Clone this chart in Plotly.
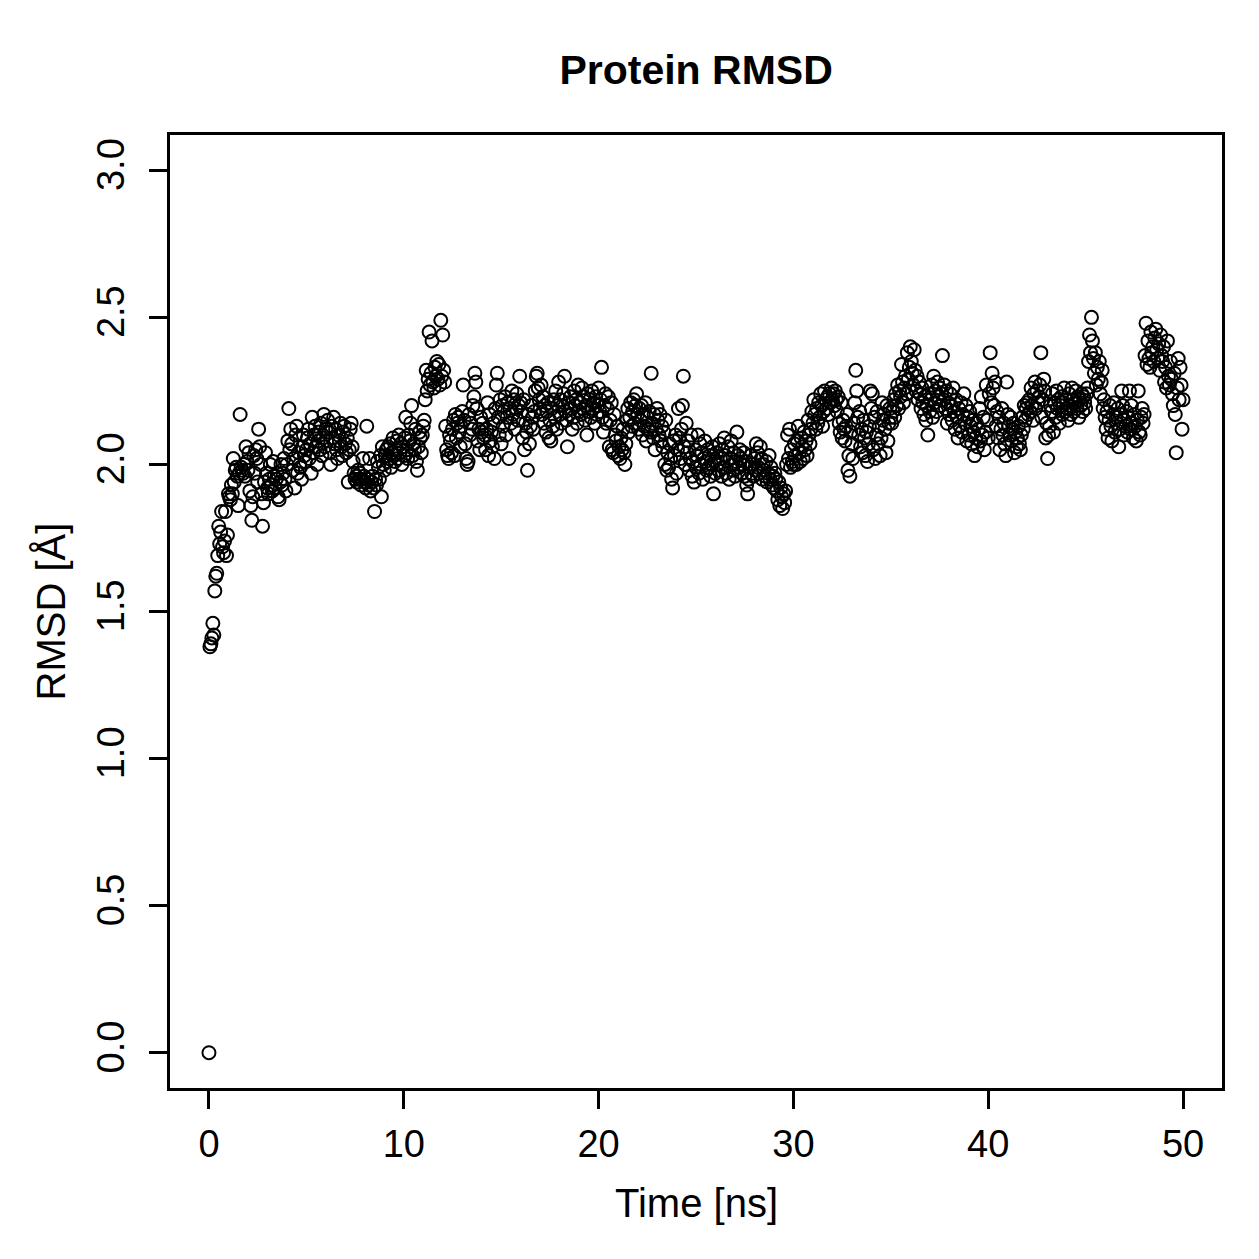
import plotly.graph_objects as go

# RMSD values (Å), one frame every 0.05 ns
rmsd_start = [0.00]
rmsd_00_10 = [
    1.38, 1.39, 1.41, 1.46, 1.42, 1.57, 1.62, 1.63, 1.69, 1.79, 1.73, 1.77, 1.84, 1.72, 1.70, 1.74, 1.84, 1.69, 1.76, 1.90,
    1.89, 1.88, 1.93, 1.90, 2.02, 1.94, 1.98, 1.99, 1.96, 1.86, 1.97, 2.17, 1.99, 1.98, 1.97, 2.00, 1.96, 2.06, 2.01, 1.98,
    2.04, 1.91, 1.86, 1.81, 1.89, 2.03, 1.97, 2.05, 2.02, 1.94, 2.12, 2.06, 2.00, 1.90, 1.79, 1.87, 1.94, 2.04, 1.97, 1.92,
    1.90, 1.95, 2.00, 1.93, 1.91, 2.01, 1.96, 1.92, 1.95, 1.97, 1.89, 1.88, 1.94, 2.00, 1.93, 1.97, 2.02, 1.95, 1.91, 2.00,
    2.08, 2.19, 2.05, 2.12, 2.07, 1.98, 2.02, 1.92, 2.10, 2.13, 1.97, 2.04, 2.00, 1.99, 1.95, 2.06, 2.10, 2.03, 2.01, 2.05,
    2.09, 2.12, 2.02, 2.07, 1.97, 2.16, 2.04, 2.10, 2.13, 2.06, 2.00, 2.08, 2.11, 2.05, 2.14, 2.03, 2.09, 2.17, 2.06, 2.12,
    2.08, 2.15, 2.11, 2.04, 2.00, 2.13, 2.09, 2.16, 2.07, 2.12, 2.05, 2.02, 2.10, 2.08, 2.14, 2.06, 2.03, 2.11, 2.13, 2.07,
    2.04, 2.09, 1.94, 2.05, 2.12, 2.14, 2.06, 2.01, 1.97, 1.95, 1.96, 1.94, 1.98, 1.95, 1.97, 1.93, 1.95, 2.02, 1.96, 1.94,
    1.92, 2.13, 1.95, 1.93, 2.02, 1.91, 1.94, 1.96, 1.92, 1.84, 1.95, 1.93, 2.01, 1.99, 1.95, 2.03, 1.89, 2.06, 2.00, 1.98,
    2.03, 2.05, 2.01, 2.06, 2.02, 2.07, 1.99, 2.04, 2.09, 2.03, 2.01, 2.05, 2.08, 2.02, 2.10, 2.04, 2.07, 2.00, 2.06, 2.03,
]
rmsd_10_20 = [
    2.09, 2.16, 2.05, 2.02, 2.10, 2.08, 2.14, 2.20, 2.03, 2.07, 2.05, 2.12, 2.01, 1.98, 2.06, 2.11, 2.09, 2.04, 2.10, 2.13,
    2.15, 2.22, 2.32, 2.25, 2.29, 2.45, 2.27, 2.31, 2.42, 2.28, 2.26, 2.33, 2.30, 2.35, 2.29, 2.34, 2.27, 2.49, 2.30, 2.44,
    2.32, 2.28, 2.13, 2.05, 2.03, 2.02, 2.10, 2.08, 2.04, 2.12, 2.15, 2.03, 2.17, 2.09, 2.14, 2.16, 2.11, 2.06, 2.13, 2.18,
    2.27, 2.15, 2.07, 2.02, 2.00, 2.01, 2.17, 2.10, 2.14, 2.12, 2.20, 2.23, 2.31, 2.28, 2.19, 2.08, 2.12, 2.05, 2.16, 2.11,
    2.14, 2.09, 2.10, 2.05, 2.12, 2.21, 2.03, 2.17, 2.08, 2.11, 2.06, 2.14, 2.02, 2.19, 2.27, 2.31, 2.16, 2.10, 2.22, 2.07,
    2.20, 2.13, 2.18, 2.23, 2.10, 2.16, 2.21, 2.02, 2.19, 2.14, 2.25, 2.17, 2.22, 2.12, 2.19, 2.24, 2.15, 2.20, 2.30, 2.21,
    2.18, 2.09, 2.22, 2.05, 2.14, 2.11, 1.98, 2.17, 2.07, 2.13, 2.20, 2.16, 2.12, 2.18, 2.25, 2.30, 2.31, 2.26, 2.22, 2.19,
    2.27, 2.17, 2.23, 2.14, 2.20, 2.11, 2.18, 2.21, 2.09, 2.15, 2.08, 2.19, 2.13, 2.22, 2.16, 2.25, 2.12, 2.20, 2.28, 2.17,
    2.22, 2.14, 2.20, 2.24, 2.30, 2.18, 2.15, 2.06, 2.21, 2.17, 2.23, 2.19, 2.12, 2.16, 2.25, 2.20, 2.22, 2.14, 2.27, 2.18,
    2.21, 2.17, 2.26, 2.19, 2.23, 2.15, 2.20, 2.10, 2.24, 2.18, 2.22, 2.16, 2.25, 2.19, 2.21, 2.14, 2.23, 2.17, 2.20, 2.26,
]
rmsd_20_30 = [
    2.18, 2.22, 2.33, 2.16, 2.11, 2.20, 2.24, 2.14, 2.19, 2.23, 2.06, 2.15, 2.21, 2.05, 2.04, 2.17, 2.10, 2.08, 2.13, 2.03,
    2.06, 2.02, 2.09, 2.05, 2.12, 2.04, 2.00, 2.07, 2.15, 2.19, 2.11, 2.16, 2.21, 2.13, 2.18, 2.22, 2.14, 2.20, 2.24, 2.17,
    2.12, 2.19, 2.15, 2.20, 2.10, 2.17, 2.13, 2.21, 2.08, 2.16, 2.12, 2.18, 2.11, 2.31, 2.14, 2.09, 2.17, 2.05, 2.12, 2.19,
    2.15, 2.10, 2.17, 2.08, 2.13, 2.06, 2.11, 2.00, 2.15, 1.98, 2.04, 1.99, 2.07, 2.02, 1.95, 1.92, 2.08, 2.03, 2.10, 1.97,
    2.05, 2.19, 2.09, 2.02, 2.12, 2.20, 2.30, 2.06, 2.00, 2.14, 2.04, 2.08, 1.98, 2.02, 2.10, 1.96, 2.01, 1.94, 2.05, 1.99,
    2.03, 2.10, 1.97, 2.07, 2.00, 2.04, 1.95, 2.02, 2.08, 2.01, 1.98, 2.05, 1.99, 2.03, 1.96, 2.00, 2.06, 1.90, 2.01, 1.97,
    2.04, 2.00, 1.98, 2.07, 2.02, 1.96, 2.05, 1.99, 2.09, 2.03, 1.97, 2.01, 2.06, 1.95, 2.02, 2.08, 2.00, 1.98, 2.04, 1.96,
    2.01, 2.11, 2.03, 1.99, 2.05, 2.02, 1.97, 2.00, 2.04, 1.96, 2.01, 1.93, 1.90, 1.95, 1.99, 2.03, 1.97, 2.00, 1.96, 2.02,
    1.98, 2.07, 2.04, 1.99, 1.97, 2.06, 2.02, 1.95, 2.00, 1.98, 1.96, 2.01, 1.94, 1.97, 2.03, 1.95, 1.99, 1.93, 1.96, 1.92,
    1.97, 1.95, 1.91, 1.88, 1.94, 1.86, 1.92, 1.89, 1.85, 1.90, 1.87, 1.91, 2.00, 2.10, 2.02, 2.12, 1.99, 2.05, 2.01, 2.00,
]
rmsd_30_40 = [
    2.07, 2.03, 2.00, 2.08, 2.13, 2.04, 2.01, 2.09, 2.06, 2.02, 2.11, 2.05, 2.08, 2.03, 2.15, 2.10, 2.07, 2.12, 2.18, 2.14,
    2.22, 2.17, 2.12, 2.19, 2.14, 2.21, 2.16, 2.24, 2.20, 2.13, 2.18, 2.25, 2.22, 2.19, 2.23, 2.17, 2.24, 2.21, 2.26, 2.22,
    2.24, 2.20, 2.25, 2.22, 2.18, 2.23, 2.14, 2.11, 2.21, 2.09, 2.15, 2.12, 2.08, 2.13, 2.17, 1.98, 2.03, 1.96, 2.11, 2.07,
    2.02, 2.14, 2.21, 2.32, 2.25, 2.16, 2.10, 2.18, 2.06, 2.12, 2.04, 2.15, 2.09, 2.03, 2.11, 2.01, 2.07, 2.13, 2.25, 2.19,
    2.24, 2.05, 2.16, 2.02, 2.10, 2.18, 2.07, 2.13, 2.03, 2.09, 2.21, 2.15, 2.17, 2.12, 2.04, 2.20, 2.08, 2.14, 2.19, 2.16,
    2.14, 2.18, 2.22, 2.16, 2.24, 2.20, 2.27, 2.19, 2.25, 2.23, 2.34, 2.28, 2.21, 2.26, 2.30, 2.24, 2.38, 2.29, 2.33, 2.40,
    2.35, 2.31, 2.27, 2.39, 2.32, 2.25, 2.30, 2.22, 2.28, 2.24, 2.19, 2.26, 2.21, 2.17, 2.23, 2.15, 2.20, 2.10, 2.24, 2.18,
    2.22, 2.27, 2.16, 2.30, 2.21, 2.25, 2.18, 2.28, 2.23, 2.26, 2.20, 2.24, 2.37, 2.22, 2.27, 2.19, 2.25, 2.14, 2.21, 2.17,
    2.24, 2.20, 2.15, 2.26, 2.18, 2.12, 2.22, 2.16, 2.09, 2.19, 2.13, 2.21, 2.11, 2.17, 2.24, 2.14, 2.20, 2.08, 2.16, 2.10,
    2.18, 2.13, 2.07, 2.15, 2.11, 2.03, 2.09, 2.14, 2.06, 2.12, 2.19, 2.08, 2.23, 2.10, 2.16, 2.05, 2.11, 2.27, 2.15, 2.09,
]
rmsd_40_50 = [
    2.24, 2.38, 2.21, 2.31, 2.26, 2.20, 2.28, 2.13, 2.18, 2.09, 2.16, 2.05, 2.12, 2.19, 2.10, 2.14, 2.07, 2.03, 2.28, 2.17,
    2.13, 2.10, 2.16, 2.08, 2.12, 2.14, 2.04, 2.11, 2.06, 2.09, 2.13, 2.07, 2.05, 2.10, 2.16, 2.12, 2.20, 2.15, 2.19, 2.21,
    2.17, 2.22, 2.18, 2.26, 2.20, 2.15, 2.24, 2.28, 2.19, 2.25, 2.21, 2.23, 2.27, 2.38, 2.16, 2.22, 2.29, 2.25, 2.09, 2.14,
    2.02, 2.10, 2.13, 2.20, 2.18, 2.24, 2.11, 2.21, 2.16, 2.25, 2.19, 2.22, 2.14, 2.20, 2.23, 2.17, 2.21, 2.26, 2.18, 2.22,
    2.19, 2.15, 2.24, 2.20, 2.17, 2.26, 2.22, 2.18, 2.21, 2.25, 2.19, 2.23, 2.16, 2.22, 2.20, 2.24, 2.18, 2.23, 2.21, 2.19,
    2.24, 2.26, 2.35, 2.44, 2.38, 2.50, 2.42, 2.36, 2.31, 2.38, 2.27, 2.33, 2.29, 2.35, 2.24, 2.28, 2.32, 2.19, 2.22, 2.16,
    2.12, 2.18, 2.09, 2.15, 2.20, 2.13, 2.08, 2.17, 2.21, 2.11, 2.16, 2.14, 2.19, 2.06, 2.12, 2.17, 2.25, 2.20, 2.10, 2.15,
    2.13, 2.18, 2.11, 2.16, 2.25, 2.12, 2.20, 2.14, 2.09, 2.17, 2.13, 2.08, 2.15, 2.25, 2.11, 2.10, 2.16, 2.19, 2.14, 2.17,
    2.37, 2.48, 2.34, 2.42, 2.36, 2.33, 2.45, 2.38, 2.40, 2.35, 2.43, 2.46, 2.39, 2.36, 2.41, 2.32, 2.44, 2.37, 2.35, 2.40,
    2.28, 2.33, 2.26, 2.42, 2.30, 2.27, 2.35, 2.29, 2.24, 2.20, 2.31, 2.17, 2.04, 2.26, 2.36, 2.22, 2.33, 2.27, 2.12, 2.22,
]

frame_step_ns = 0.05
x_ticks = [0, 10, 20, 30, 40, 50]
y_ticks = [0.0, 0.5, 1.0, 1.5, 2.0, 2.5, 3.0]

rmsd = rmsd_start + rmsd_00_10 + rmsd_10_20 + rmsd_20_30 + rmsd_30_40 + rmsd_40_50
time_ns = [i * frame_step_ns for i in range(len(rmsd))]

FONT = "Liberation Sans, Arial, Helvetica, sans-serif"

fig = go.Figure()
fig.add_trace(go.Scatter(
    x=time_ns, y=rmsd, mode="markers",
    marker=dict(symbol="circle-open", size=13, color="black", line=dict(width=2, color="black")),
    showlegend=False, hoverinfo="x+y",
))

fig.update_layout(
    width=1259, height=1259,
    margin=dict(l=170, r=37, t=135, b=171),
    paper_bgcolor="white", plot_bgcolor="white",
    font=dict(family=FONT, size=40, color="black"),
    title=dict(text="<b>Protein RMSD</b>", x=0.5529, xanchor="center",
               y=1 - 70 / 1259, yanchor="middle", yref="container",
               font=dict(family=FONT, size=41, color="black")),
)

fig.update_xaxes(
    range=[-2, 52], tickvals=x_ticks, ticktext=[str(v) for v in x_ticks],
    showgrid=False, zeroline=False,
    showline=True, linewidth=3, linecolor="black", mirror=True,
    ticks="outside", ticklen=18, tickwidth=3, tickcolor="black",
    tickfont=dict(family=FONT, size=38), ticklabelstandoff=2,
)
fig.update_yaxes(
    range=[-0.12, 3.12], tickvals=y_ticks, ticktext=[f"{v:.1f}" for v in y_ticks],
    showgrid=False, zeroline=False,
    showline=True, linewidth=3, linecolor="black", mirror=True,
    ticks="outside", ticklen=18, tickwidth=3, tickcolor="black",
    tickfont=dict(family=FONT, size=38), tickangle=-90, ticklabelstandoff=10,
)

fig.add_annotation(text="Time [ns]", xref="paper", yref="paper", x=0.5, y=0,
                   xanchor="center", yanchor="middle", yshift=-115, showarrow=False,
                   font=dict(family=FONT, size=40, color="black"))
fig.add_annotation(text="RMSD [Å]", xref="paper", yref="paper", x=0, y=0.5,
                   xanchor="center", yanchor="middle", xshift=-120, textangle=-90,
                   showarrow=False, font=dict(family=FONT, size=40, color="black"))

fig.write_html("out.html")
